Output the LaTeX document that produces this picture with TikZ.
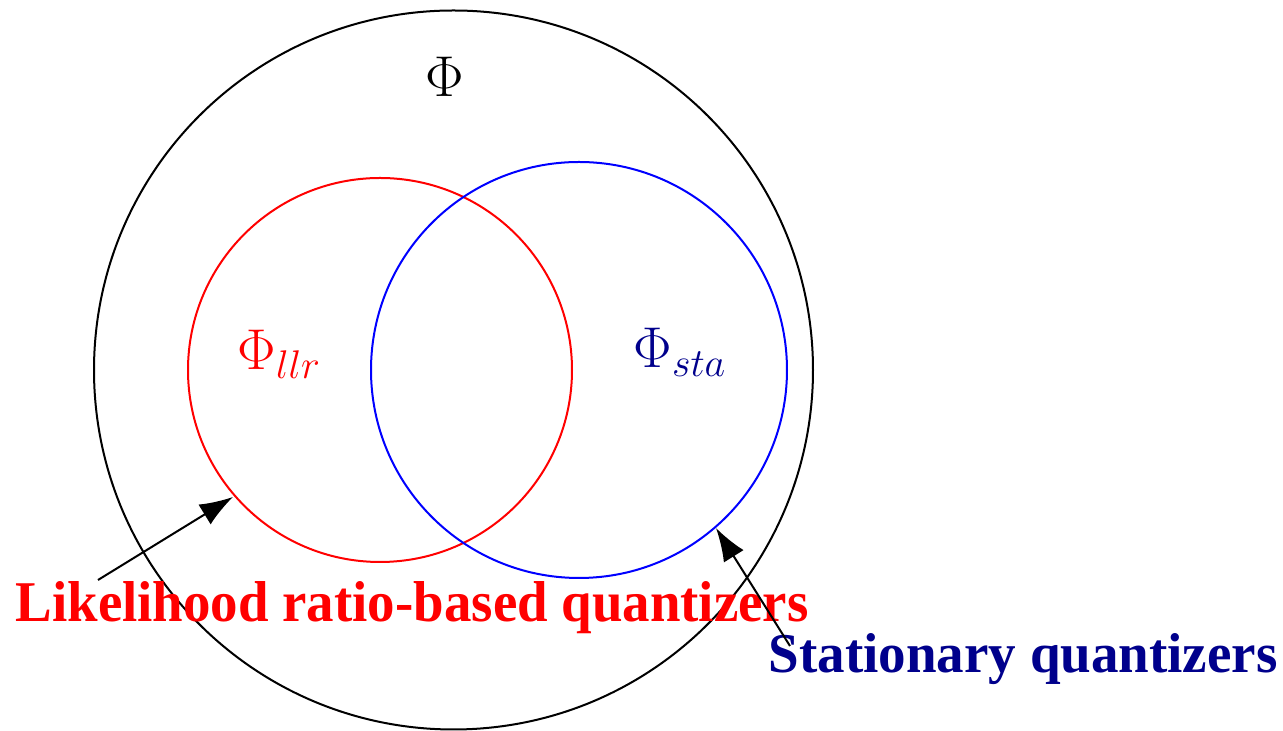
\documentclass[tikz,border=0pt]{standalone}
\usepackage{fontspec}
\newfontfamily\timesbf[BoldFont={Liberation Serif Bold}]{Liberation Serif}
\usetikzlibrary{arrows.meta}
\definecolor{navy}{RGB}{0,0,140}
\DeclareMathSizes{16}{16}{12.5}{10}
\begin{document}
\begin{tikzpicture}[x=0.3pt,y=-0.3pt,
  ring/.style={line width=0.6pt},
  lbl/.style={inner sep=0pt,anchor=base west,font=\fontsize{16}{18}\selectfont},
  ptr/.style={line width=0.6pt,-{Latex[length=10pt,width=7pt]}}]
\useasboundingbox (0,0) rectangle (1283,731);
\draw[ring,black] (453.5,370) circle[radius=359.5];
\draw[ring,red] (380,370) circle[radius=192];
\draw[ring,blue] (579,370) circle[radius=208];
\node[lbl] (phi) at (425,97) {$\Phi$};
\node[lbl,text=red] (phillr) at (237,370) {$\Phi_{llr}$};
\node[lbl,text=navy] (phista) at (633,368) {$\Phi_{sta}$};
\node[inner sep=0pt,anchor=base west,text=red] (llr) at (15,622)
  {\resizebox{237.9pt}{12pt}{\timesbf\bfseries Likelihood ratio-based quantizers}};
\node[inner sep=0pt,anchor=base west,text=navy] (sta) at (768,673)
  {\resizebox{152.7pt}{11.7pt}{\timesbf\bfseries Stationary quantizers}};
\coordinate (t1) at (98,580);
\coordinate (h1) at (233,497);
\coordinate (t2) at (790,646);
\coordinate (h2) at (716,528);
\draw[ptr] (t1) -- (h1);
\draw[ptr] (t2) -- (h2);
\end{tikzpicture}
\end{document}
